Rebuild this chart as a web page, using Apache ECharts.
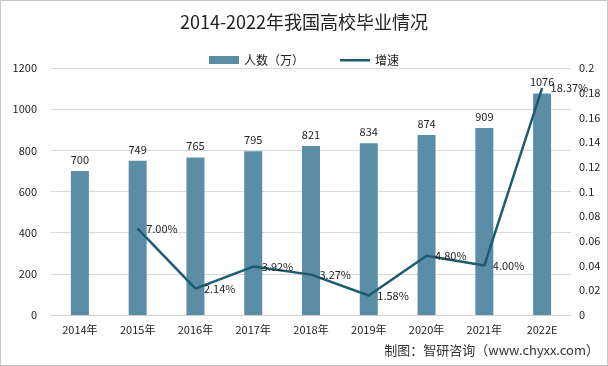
<!DOCTYPE html>
<html><head><meta charset="utf-8">
<script src="https://cdn.jsdelivr.net/npm/echarts@6/dist/echarts.min.js"></script>
<style>html,body{margin:0;padding:0;background:#fff}#c{width:608px;height:366px;box-sizing:border-box;border:1px solid #c8c8c8}</style>
</head><body><div id="c"></div>
<script>
var categories = ['2014年','2015年','2016年','2017年','2018年','2019年','2020年','2021年','2022E'];
var people = [700,749,765,795,821,834,874,909,1076];
var growth = [null,0.07,0.0214,0.0392,0.0327,0.0158,0.048,0.04,0.1837];
var leftTicks = {min:0,max:1200,interval:200};
var rightTicks = {min:0,max:0.2,interval:0.02};
var font = '"Noto Sans CJK SC","Noto Sans",sans-serif';
var chart = echarts.init(document.getElementById('c'));
chart.setOption({
  animation:false,
  textStyle:{fontFamily:font},
  title:{text:'2014-2022年我国高校毕业情况',left:'center',top:7,textStyle:{fontSize:18,fontWeight:'normal',color:'#222',fontFamily:font}},
  legend:{top:48,left:'center',itemGap:36,itemWidth:30,itemHeight:8,textStyle:{fontSize:12,color:'#222'},
    data:[{name:'人数（万）',icon:'rect'},{name:'增速',icon:'path://M0,0ZM0,3H30V5.5H0ZM30,8Z'}]},
  graphic:[{type:'text',right:8,bottom:8,style:{text:'制图：智研咨询（www.chyxx.com）',fontSize:13,fill:'#333',fontFamily:font}}],
  grid:{left:50,right:36,top:67,bottom:50},
  xAxis:{type:'category',data:categories,axisTick:{show:false},axisLine:{lineStyle:{color:'#d0d0d0'}},
    axisLabel:{fontSize:11,color:'#222',margin:9}},
  yAxis:[
    {type:'value',min:leftTicks.min,max:leftTicks.max,interval:leftTicks.interval,axisLine:{show:false},axisTick:{show:false},
      axisLabel:{fontSize:11,color:'#222',margin:14,formatter:function(v){return String(v);}},splitLine:{lineStyle:{color:'#d9d9d9'}}},
    {type:'value',min:rightTicks.min,max:rightTicks.max,interval:rightTicks.interval,axisLine:{show:false},axisTick:{show:false},
      axisLabel:{fontSize:11,color:'#222',margin:8,formatter:function(v){return v===0?'0':String(+v.toFixed(2));}},splitLine:{show:false}}
  ],
  series:[
    {name:'人数（万）',type:'bar',data:people,barWidth:18,itemStyle:{color:'#5b8ea6'},
      label:{show:true,position:'top',fontSize:11,color:'#222',distance:6}},
    {name:'增速',type:'line',yAxisIndex:1,data:growth,symbol:'circle',symbolSize:1,showSymbol:true,lineStyle:{color:'#1d5b70',width:2.5},itemStyle:{color:'#1d5b70'},
      label:{show:true,position:'right',fontSize:11,color:'#222',distance:8,formatter:function(p){return (p.value*100).toFixed(2)+'%';}}}
  ]
});
</script></body></html>
